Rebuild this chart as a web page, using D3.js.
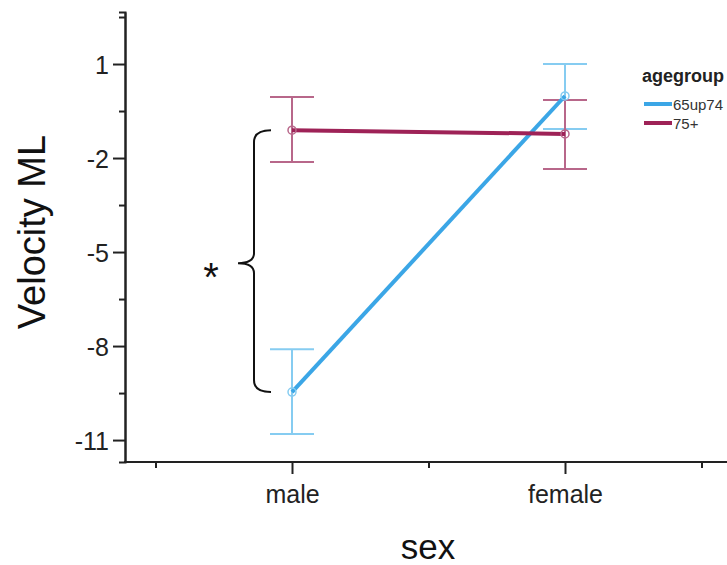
<!DOCTYPE html>
<html>
<head>
<meta charset="utf-8">
<script src="https://cdn.jsdelivr.net/npm/d3@7"></script>
<style>
  body { margin: 0; background: #fff; }
  svg { display: block; font-family: "Liberation Sans", Arial, sans-serif; }
</style>
</head>
<body>
<svg id="chart" width="727" height="565"></svg>
<script>
const categories = ["male", "female"];
const groups = ["65up74", "75+"];
const means = { "65up74": [-9.47, -0.02], "75+": [-1.11, -1.23] };
const ciLow = { "65up74": [-10.81, -1.07], "75+": [-2.13, -2.35] };
const ciHigh = { "65up74": [-8.10, 1.0], "75+": [-0.05, -0.15] };
const yTicks = [1, -2, -5, -8, -11];
const yMinor = [2.5, -0.5, -3.5, -6.5, -9.5];

const lineColor = { "65up74": "#3ba6e6", "75+": "#9e2257" };
const barColor = { "65up74": "#86ccf1", "75+": "#b8678a" };

const svg = d3.select("#chart");

const y = d3.scaleLinear().domain([-11.7, 2.66]).range([462, 12]);
const x = d3.scaleLinear().domain([0, 1]).range([292, 565]);

// y axis
const yAxis = svg.append("g").attr("transform", "translate(125,0)");
yAxis.call(d3.axisLeft(y).tickValues(yTicks).tickSize(12).tickSizeOuter(0).tickFormat(d => String(d)));
yAxis.append("g").call(d3.axisLeft(y).tickValues(yMinor).tickSize(6).tickFormat(""));
yAxis.selectAll("path.domain").attr("stroke", "#222").attr("stroke-width", 2);
yAxis.selectAll("line").attr("stroke", "#222").attr("stroke-width", 2);
yAxis.selectAll("text").attr("font-size", 25).attr("fill", "#222").attr("x", -16).attr("dy", "0.36em");

// x axis
svg.append("line").attr("x1", 124).attr("x2", 727).attr("y1", 462).attr("y2", 462)
  .attr("stroke", "#222").attr("stroke-width", 2);
const xAxis = svg.append("g").attr("transform", "translate(0,462)");
xAxis.call(d3.axisBottom(x).tickValues([0, 1]).tickSize(12).tickFormat(i => categories[i]));
xAxis.append("g").call(d3.axisBottom(x).tickValues([-0.5, 0.5, 1.5]).tickSize(6).tickFormat(""));
xAxis.selectAll("path.domain").remove();
xAxis.selectAll("line").attr("stroke", "#222").attr("stroke-width", 2);
xAxis.selectAll("text").attr("font-size", 25).attr("fill", "#222").attr("y", 22).attr("dy", "0.75em");

// axis titles
svg.append("text").attr("x", 428).attr("y", 559).attr("text-anchor", "middle")
  .attr("font-size", 35).attr("fill", "#111").text("sex");
svg.append("text").attr("transform", "translate(45,232) rotate(-90)").attr("text-anchor", "middle")
  .attr("font-size", 38).attr("fill", "#111").text("Velocity ML");

// error bars
const capW = 22;
groups.forEach(g => {
  const eb = svg.append("g").attr("stroke", barColor[g]).attr("stroke-width", 2).attr("fill", "none");
  categories.forEach((c, i) => {
    eb.append("line").attr("x1", x(i)).attr("x2", x(i)).attr("y1", y(ciLow[g][i])).attr("y2", y(ciHigh[g][i]));
    eb.append("line").attr("x1", x(i) - capW).attr("x2", x(i) + capW).attr("y1", y(ciLow[g][i])).attr("y2", y(ciLow[g][i]));
    eb.append("line").attr("x1", x(i) - capW).attr("x2", x(i) + capW).attr("y1", y(ciHigh[g][i])).attr("y2", y(ciHigh[g][i]));
  });
});

// mean lines
const line = d3.line().x((d, i) => x(i)).y(d => y(d));
groups.forEach(g => {
  svg.append("path").datum(means[g]).attr("d", line)
    .attr("fill", "none").attr("stroke", lineColor[g]).attr("stroke-width", 4);
  svg.selectAll(null).data(means[g]).enter().append("circle")
    .attr("cx", (d, i) => x(i)).attr("cy", d => y(d)).attr("r", 4)
    .attr("fill", "none").attr("stroke", barColor[g]).attr("stroke-width", 1.5);
});

// significance brace
const yTop = y(means["75+"][0]), yBot = y(means["65up74"][0]), yMid = (yTop + yBot) / 2 + 2;
const bx = 254;
const brace = d3.path();
brace.moveTo(bx + 17, yTop);
brace.quadraticCurveTo(bx, yTop, bx, yTop + 12);
brace.lineTo(bx, yMid - 10);
brace.quadraticCurveTo(bx, yMid, bx - 16, yMid);
brace.quadraticCurveTo(bx, yMid, bx, yMid + 10);
brace.lineTo(bx, yBot - 12);
brace.quadraticCurveTo(bx, yBot, bx + 17, yBot);
svg.append("path").attr("d", brace.toString()).attr("fill", "none").attr("stroke", "#111").attr("stroke-width", 2);
svg.append("text").attr("x", 211).attr("y", 291).attr("text-anchor", "middle")
  .attr("font-size", 40).attr("fill", "#111").text("*");

// legend
const lg = svg.append("g").attr("transform", "translate(642,0)");
lg.append("text").attr("x", 0).attr("y", 82).attr("font-size", 18).attr("font-weight", "bold")
  .attr("fill", "#222").text("agegroup");
groups.forEach((g, i) => {
  const yy = 104 + i * 19;
  lg.append("line").attr("x1", 2).attr("x2", 30).attr("y1", yy).attr("y2", yy)
    .attr("stroke", lineColor[g]).attr("stroke-width", 4);
  lg.append("text").attr("x", 31).attr("y", yy + 6).attr("font-size", 15).attr("fill", "#333").text(g);
});
</script>
</body>
</html>
